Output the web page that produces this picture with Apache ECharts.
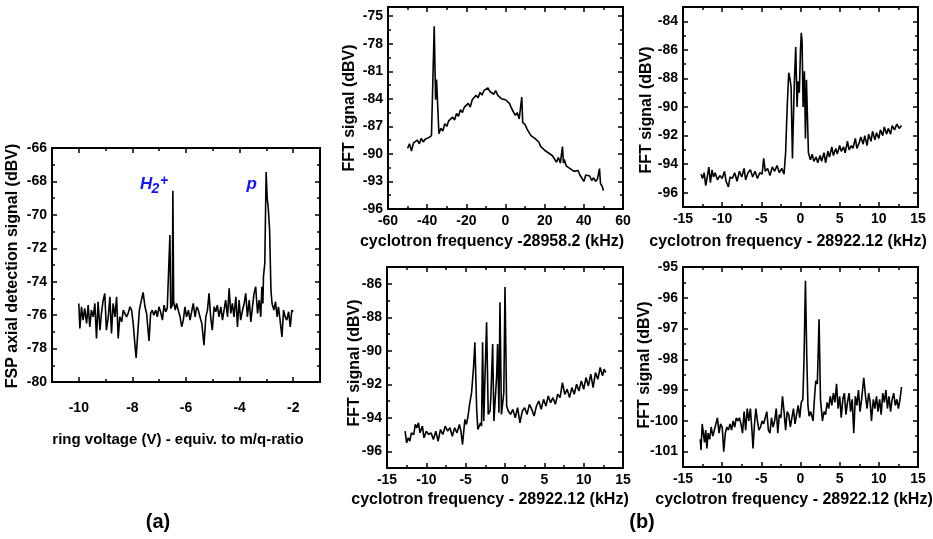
<!DOCTYPE html>
<html><head><meta charset="utf-8">
<script src="https://cdn.jsdelivr.net/npm/echarts@6.0.0/dist/echarts.min.js"></script>
<style>html,body{margin:0;padding:0;background:#fff}#c{width:933px;height:539px}</style>
</head><body><div id="c"></div><script>
// ---------- DATA ----------
// (a) FSP axial detection signal vs ring voltage
const fspSignal = [
[-10.00,-75.3],[-9.96,-76.8],[-9.90,-75.5],[-9.84,-76.3],[-9.78,-75.6],[-9.71,-76.5],[-9.65,-75.4],[-9.59,-76.7],[-9.53,-75.7],[-9.46,-76.1],
[-9.40,-75.3],[-9.34,-77.4],[-9.28,-75.2],[-9.21,-76.9],[-9.15,-75.8],[-9.09,-75.1],[-9.03,-74.7],[-8.97,-76.9],[-8.90,-76.1],[-8.84,-74.9],
[-8.78,-77.1],[-8.72,-75.3],[-8.65,-76.1],[-8.59,-74.9],[-8.53,-77.4],[-8.47,-76.1],[-8.40,-76.4],[-8.34,-75.7],[-8.28,-75.6],[-8.22,-76.1],
[-8.16,-75.9],[-8.09,-75.5],[-8.03,-75.7],[-7.97,-76.5],[-7.91,-77.7],[-7.86,-78.56],[-7.81,-77.3],[-7.74,-75.7],[-7.69,-75.3],[-7.63,-75.3],
[-7.60,-74.64],[-7.53,-75.5],[-7.47,-75.9],[-7.38,-77.54],[-7.32,-75.9],[-7.26,-75.7],[-7.20,-76.0],[-7.13,-75.7],[-7.07,-76.1],[-7.01,-75.5],
[-6.95,-75.8],[-6.88,-76.3],[-6.82,-75.4],[-6.76,-75.8],[-6.70,-75.6],[-6.65,-75.7],[-6.63,-75.5],[-6.60,-71.2],[-6.57,-75.6],[-6.51,-75.4],
[-6.49,-68.56],[-6.46,-75.2],[-6.40,-75.7],[-6.35,-75.3],[-6.29,-75.7],[-6.22,-76.1],[-6.16,-76.7],[-6.10,-76.3],[-6.04,-75.5],[-5.98,-76.1],
[-5.91,-75.7],[-5.85,-76.3],[-5.79,-75.8],[-5.73,-75.3],[-5.66,-76.1],[-5.60,-75.5],[-5.54,-75.7],[-5.48,-76.1],[-5.41,-76.5],[-5.33,-77.8],
[-5.26,-76.1],[-5.20,-75.7],[-5.14,-74.7],[-5.08,-76.1],[-5.02,-76.9],[-4.95,-75.5],[-4.89,-75.8],[-4.83,-75.4],[-4.77,-76.1],[-4.70,-75.5],
[-4.64,-76.3],[-4.58,-75.7],[-4.52,-75.1],[-4.45,-76.1],[-4.39,-74.4],[-4.33,-75.9],[-4.27,-75.3],[-4.21,-76.1],[-4.14,-74.9],[-4.08,-76.7],
[-4.02,-75.1],[-3.96,-76.3],[-3.89,-75.7],[-3.83,-75.3],[-3.77,-74.7],[-3.71,-76.1],[-3.64,-75.1],[-3.58,-76.4],[-3.52,-75.5],[-3.46,-74.7],
[-3.40,-74.3],[-3.33,-75.9],[-3.27,-75.1],[-3.21,-76.1],[-3.17,-74.3],[-3.13,-75.3],[-3.11,-73.7],[-3.06,-72.9],[-3.01,-67.44],[-2.97,-69.0],
[-2.93,-69.6],[-2.88,-70.9],[-2.83,-74.5],[-2.79,-75.3],[-2.72,-75.7],[-2.66,-75.2],[-2.60,-76.1],[-2.55,-75.5],[-2.49,-76.3],[-2.42,-77.3],
[-2.36,-75.7],[-2.30,-76.1],[-2.24,-76.3],[-2.17,-75.8],[-2.11,-76.7],[-2.05,-75.7],[-2.00,-75.8]
];
// (b) top-left: offset -28958.2 kHz
const fftWide = [
[-50,-89.4],[-49,-88.9],[-48,-89.7],[-47,-88.8],[-46,-89.0],[-45,-88.5],[-44,-88.9],[-43,-88.3],[-42,-88.7],[-41,-88.4],
[-40,-88.6],[-39,-88.2],[-38.4,-88.4],[-37.8,-88.0],[-36.4,-76.1],[-35.7,-84.1],[-35.2,-81.9],[-34.5,-82.0],[-34.0,-87.8],[-33,-87.2],
[-32,-87.5],[-31,-86.7],[-30,-87.0],[-29,-86.4],[-28,-86.6],[-27,-86.0],[-26,-86.3],[-25,-85.6],[-24,-85.9],[-23,-85.2],
[-22,-85.5],[-21,-84.9],[-20,-85.1],[-19,-84.5],[-18,-84.9],[-17,-84.1],[-16,-84.3],[-15,-83.6],[-14,-83.9],[-13,-83.3],
[-12,-83.6],[-11,-83.1],[-10,-83.3],[-9,-82.8],[-8,-83.2],[-7,-83.0],[-6,-83.5],[-5,-83.1],[-4,-83.6],[-3,-83.4],
[-2,-84.0],[-1,-83.8],[0,-84.1],[1,-84.3],[2,-84.5],[3,-85.0],[4,-85.2],[5,-85.8],[6,-85.5],[7,-86.2],
[7.8,-86.4],[8.3,-83.8],[8.8,-86.6],[10,-86.8],[11,-87.3],[12,-87.4],[13,-88.0],[14,-87.8],[15,-88.3],[16,-88.5],
[17,-88.7],[18,-89.2],[19,-89.0],[20,-89.6],[21,-89.5],[22,-89.9],[23,-89.7],[24,-90.2],[25,-90.3],[26,-90.9],
[27,-90.4],[28,-91.0],[28.6,-90.8],[29.1,-89.2],[29.6,-91.0],[30,-90.6],[31,-91.3],[32,-91.5],[33,-91.6],[34,-91.4],
[35,-91.9],[36,-92.0],[37,-91.8],[38,-92.3],[39,-92.1],[40,-93.0],[41,-92.3],[42,-92.5],[43,-92.4],[44,-92.9],
[45,-92.6],[46,-93.0],[47,-92.7],[47.6,-92.9],[48,-91.6],[48.5,-93.2],[49,-93.1],[49.5,-93.6],[50,-94.0]
];
// (b) top-right: offset -28922.12 kHz
const fftNarrow1 = [
[-12.7,-94.7],[-12.5,-95.0],[-12.3,-94.6],[-12.1,-95.5],[-11.9,-94.9],[-11.7,-94.2],[-11.5,-95.3],[-11.3,-94.4],[-11.1,-94.9],[-10.9,-94.6],
[-10.6,-95.1],[-10.3,-94.8],[-10.0,-95.0],[-9.7,-94.5],[-9.5,-95.2],[-9.2,-95.6],[-9.0,-94.9],[-8.7,-95.0],[-8.4,-94.6],[-8.1,-95.2],
[-7.8,-94.5],[-7.5,-94.9],[-7.2,-94.3],[-7.0,-95.1],[-6.7,-94.6],[-6.4,-94.4],[-6.1,-94.9],[-5.8,-94.5],[-5.5,-95.0],[-5.2,-94.6],
[-4.9,-94.7],[-4.7,-93.6],[-4.5,-94.5],[-4.2,-94.3],[-3.9,-94.8],[-3.6,-94.2],[-3.3,-94.5],[-3.0,-94.1],[-2.7,-94.6],[-2.4,-94.3],
[-2.1,-94.7],[-1.9,-93.2],[-1.7,-90.0],[-1.5,-87.6],[-1.35,-88.0],[-1.2,-88.6],[-1.03,-93.6],[-0.8,-88.5],[-0.61,-85.8],[-0.44,-90.0],
[-0.3,-88.2],[-0.15,-89.0],[0.0,-86.0],[0.1,-84.8],[0.2,-85.4],[0.33,-90.0],[0.5,-87.5],[0.63,-92.2],[0.76,-88.1],[1.01,-93.2],
[1.27,-93.7],[1.5,-93.3],[1.7,-93.8],[2.0,-93.5],[2.2,-93.9],[2.5,-93.4],[2.7,-93.8],[3.0,-93.2],[3.2,-93.9],[3.5,-93.1],
[3.7,-93.5],[4.0,-92.8],[4.2,-93.4],[4.5,-92.9],[4.7,-93.3],[5.0,-92.7],[5.2,-93.1],[5.5,-92.8],[5.7,-93.2],[6.0,-92.4],
[6.2,-93.0],[6.5,-92.7],[6.7,-92.9],[7.0,-92.2],[7.2,-92.9],[7.5,-92.5],[7.7,-92.1],[8.0,-92.6],[8.2,-92.0],[8.5,-92.7],
[8.7,-91.9],[9.0,-92.4],[9.2,-91.7],[9.5,-92.3],[9.7,-91.8],[10.0,-92.2],[10.2,-91.6],[10.5,-92.0],[10.7,-91.4],[11.0,-91.9],
[11.2,-91.5],[11.5,-91.9],[11.7,-91.3],[12.0,-91.6],[12.3,-91.2],[12.6,-91.5],[12.9,-91.3]
];
// (b) bottom-left
const fftNarrow2 = [
[-12.7,-94.8],[-12.5,-95.5],[-12.3,-95.2],[-12.1,-95.4],[-11.9,-94.9],[-11.6,-95.0],[-11.4,-94.4],[-11.2,-94.6],[-11.0,-94.3],[-10.8,-94.9],
[-10.5,-94.5],[-10.3,-95.2],[-10.0,-94.8],[-9.7,-95.0],[-9.4,-94.9],[-9.1,-95.3],[-8.8,-94.8],[-8.5,-95.4],[-8.2,-94.7],[-7.9,-95.0],
[-7.6,-94.5],[-7.3,-94.8],[-7.0,-94.6],[-6.7,-95.1],[-6.4,-94.6],[-6.1,-94.9],[-5.8,-94.4],[-5.6,-94.8],[-5.4,-95.6],[-5.1,-94.1],
[-4.9,-94.4],[-4.7,-93.9],[-4.5,-93.2],[-4.25,-92.5],[-4.0,-91.0],[-3.83,-89.5],[-3.6,-93.5],[-3.45,-94.7],[-3.28,-94.8],[-3.1,-94.3],
[-2.98,-94.5],[-2.85,-89.5],[-2.7,-94.2],[-2.55,-91.7],[-2.34,-88.3],[-2.13,-93.8],[-1.9,-93.6],[-1.79,-92.7],[-1.57,-89.6],[-1.41,-94.2],
[-1.2,-94.2],[-1.06,-91.5],[-0.94,-89.6],[-0.77,-93.7],[-0.64,-87.1],[-0.45,-93.8],[-0.3,-93.9],[-0.15,-92.5],[0.0,-86.2],[0.21,-93.3],
[0.42,-93.6],[0.7,-93.8],[1.0,-93.5],[1.3,-94.0],[1.6,-93.4],[1.9,-94.3],[2.2,-93.6],[2.5,-93.4],[2.8,-93.8],[3.1,-93.2],
[3.4,-93.5],[3.7,-93.9],[4.0,-93.3],[4.3,-93.0],[4.6,-93.5],[4.9,-92.9],[5.2,-93.3],[5.5,-92.7],[5.8,-93.1],[6.1,-92.8],
[6.4,-93.2],[6.7,-92.6],[7.0,-92.8],[7.3,-91.9],[7.6,-92.6],[7.9,-92.3],[8.2,-92.8],[8.5,-92.2],[8.8,-92.6],[9.1,-92.0],
[9.4,-92.4],[9.7,-91.8],[10.0,-92.3],[10.3,-91.6],[10.6,-92.1],[10.9,-91.4],[11.2,-92.2],[11.5,-91.3],[11.8,-91.7],[12.1,-91.0],
[12.4,-91.5],[12.6,-91.1],[12.8,-91.3]
];
// (b) bottom-right
const fftNarrow3 = [
[-12.8,-100.6],[-12.7,-100.95],[-12.55,-100.1],[-12.4,-100.1],[-12.25,-100.7],[-12.1,-100.3],[-11.95,-100.9],[-11.8,-100.4],[-11.6,-100.6],[-11.4,-100.2],
[-11.2,-100.5],[-11.0,-100.3],[-10.8,-100.1],[-10.6,-99.9],[-10.4,-100.4],[-10.2,-100.1],[-10.0,-100.2],[-9.8,-101.0],[-9.6,-100.4],[-9.4,-100.2],
[-9.2,-100.3],[-9.0,-100.1],[-8.8,-100.3],[-8.6,-100.0],[-8.4,-100.2],[-8.2,-99.9],[-8.0,-100.0],[-7.8,-99.9],[-7.6,-100.1],[-7.4,-100.4],
[-7.2,-99.7],[-7.0,-100.3],[-6.8,-99.6],[-6.6,-100.0],[-6.4,-99.6],[-6.2,-100.3],[-6.06,-100.9],[-5.9,-100.2],[-5.7,-99.6],[-5.5,-100.0],
[-5.3,-100.3],[-5.1,-100.2],[-4.9,-100.0],[-4.7,-100.1],[-4.5,-99.9],[-4.3,-99.7],[-4.1,-100.3],[-3.9,-100.4],[-3.7,-99.9],[-3.5,-100.2],
[-3.3,-100.0],[-3.1,-99.6],[-2.9,-100.4],[-2.7,-99.8],[-2.5,-99.9],[-2.3,-99.2],[-2.1,-99.7],[-1.9,-100.3],[-1.7,-99.7],[-1.5,-99.8],
[-1.3,-100.2],[-1.1,-99.9],[-0.9,-99.6],[-0.7,-100.1],[-0.5,-99.8],[-0.3,-99.5],[-0.1,-99.9],[0.1,-99.4],[0.3,-99.3],[0.45,-98.0],
[0.63,-95.45],[0.8,-97.9],[0.95,-99.5],[1.1,-99.85],[1.3,-99.7],[1.6,-100.0],[1.8,-99.2],[1.95,-98.7],[2.15,-98.8],[2.37,-96.7],
[2.55,-99.3],[2.8,-100.0],[3.0,-99.7],[3.2,-99.8],[3.4,-99.4],[3.6,-99.6],[3.8,-99.2],[4.0,-99.5],[4.2,-99.1],[4.4,-99.4],
[4.6,-98.8],[4.8,-99.6],[5.0,-99.2],[5.2,-99.9],[5.4,-99.3],[5.6,-99.1],[5.8,-99.8],[6.0,-99.4],[6.2,-99.1],[6.4,-99.7],
[6.6,-99.3],[6.8,-100.4],[7.0,-99.2],[7.2,-99.5],[7.4,-99.0],[7.6,-99.7],[7.8,-99.3],[8.08,-98.6],[8.3,-99.2],[8.5,-99.6],
[8.7,-99.1],[8.9,-99.4],[9.06,-100.0],[9.3,-99.3],[9.5,-99.6],[9.7,-99.2],[9.9,-99.7],[10.1,-99.3],[10.3,-99.8],[10.5,-99.1],
[10.7,-99.4],[10.9,-99.0],[11.1,-99.6],[11.3,-99.2],[11.5,-99.7],[11.7,-99.3],[11.9,-99.1],[12.1,-99.5],[12.3,-99.3],[12.5,-99.6],
[12.7,-99.3],[12.9,-98.9]
];

// tick labels / tick positions
const aXTicks = [-10,-8,-6,-4,-2];
const aXMinor = [-11,-9,-7,-5,-3,-1];
const aYTicks = [-80,-78,-76,-74,-72,-70,-68,-66];
const aYMinor = [-79,-77,-75,-73,-71,-69,-67];
const wideXTicks = [-60,-40,-20,0,20,40,60];
const wideXMinor = [-50,-30,-10,10,30,50];
const wideYTicks = [-96,-93,-90,-87,-84,-81,-78,-75];
const wideYMinor = [-94.5,-91.5,-88.5,-85.5,-82.5,-79.5,-76.5];
const narrowXTicks = [-15,-10,-5,0,5,10,15];
const narrowXMinor = [-12.5,-7.5,-2.5,2.5,7.5,12.5];
const n1YTicks = [-96,-94,-92,-90,-88,-86,-84];
const n1YMinor = [-97,-95,-93,-91,-89,-87,-85,-83];
const n2YTicks = [-96,-94,-92,-90,-88,-86];
const n2YMinor = [-97,-95,-93,-91,-89,-87,-85];
const n3YTicks = [-101,-100,-99,-98,-97,-96,-95];
const n3YMinor = [-101.5,-100.5,-99.5,-98.5,-97.5,-96.5,-95.5];

// titles
const titleA_Y = 'FSP axial detection signal (dBV)';
const titleA_X = 'ring voltage (V) - equiv. to m/q-ratio';
const titleB_Y = 'FFT signal (dBV)';
const titleWideX = 'cyclotron frequency -28958.2 (kHz)';
const titleNarrowX = 'cyclotron frequency - 28922.12 (kHz)';

// ---------- CHART ----------
const FONT = '"Liberation Sans", Arial, Helvetica, sans-serif';
const chart = echarts.init(document.getElementById('c'), null, {renderer:'canvas'});

const grids = [
  {left:52, top:148, width:268, height:234},
  {left:388, top:7, width:235, height:202},
  {left:683, top:7, width:235, height:200},
  {left:387, top:267, width:236, height:201},
  {left:683, top:267, width:235, height:200}
];
const specs = [
  {x:[-11,-1,aXTicks,aXMinor], y:[-80,-66,aYTicks,aYMinor], xm:19, data:fspSignal},
  {x:[-60,60,wideXTicks,wideXMinor], y:[-96,-74,wideYTicks,wideYMinor], xm:5, data:fftWide},
  {x:[-15,15,narrowXTicks,narrowXMinor], y:[-97,-83,n1YTicks,n1YMinor], xm:5, data:fftNarrow1},
  {x:[-15,15,narrowXTicks,narrowXMinor], y:[-97,-85,n2YTicks,n2YMinor], xm:5, data:fftNarrow2},
  {x:[-15,15,narrowXTicks,narrowXMinor], y:[-101.5,-95,n3YTicks,n3YMinor], xm:5, data:fftNarrow3}
];

function makeAxes(kind, g, spec, margin) {
  const [min,max,majors,minors] = spec;
  const positions = kind==='x' ? ['bottom','top'] : ['left','right'];
  const out = [];
  positions.forEach((p,i)=>{
    [[majors,5,i===0],[minors,3,false]].forEach(([vals,len,lab])=>{
      out.push({
        type:'value', gridIndex:g, position:p, min, max, offset:0,
        splitLine:{show:false},
        axisLine:{show:true, onZero:false, lineStyle:{color:'#000', width:2}},
        axisTick:{show:true, inside:true, length:len, customValues:vals, lineStyle:{color:'#000', width:1.5}},
        axisLabel:lab ? {show:true, customValues:vals, inside:false, margin:margin, color:'#000',
          fontFamily:FONT, fontWeight:'bold', fontSize:14, hideOverlap:false} : {show:false}
      });
    });
  });
  return out;
}

const xAxis = [], yAxis = [], series = [];
specs.forEach((s,g)=>{
  xAxis.push(...makeAxes('x', g, s.x, s.xm));
  yAxis.push(...makeAxes('y', g, s.y, 5));
  series.push({
    type:'line', xAxisIndex:g*4, yAxisIndex:g*4, data:s.data,
    showSymbol:false, symbol:'none', smooth:false,
    lineStyle:{color:'#000', width:1.6}, silent:true
  });
});

function txt(x,y,text,size,opts){
  opts = opts||{};
  return {type:'text', x, y, rotation:opts.rot||0, silent:true,
    style:{text, fill:opts.color||'#000', font:(opts.style||'')+' bold '+size+'px '+FONT,
      textAlign:opts.align||'center', textVerticalAlign:'middle', align:opts.align||'center', verticalAlign:'middle'}};
}

const graphics = [
  txt(13,266,titleA_Y,16,{rot:Math.PI/2}),
  txt(178,440,titleA_X,15),
  txt(350,108,titleB_Y,16,{rot:Math.PI/2}),
  txt(492,242,titleWideX,16),
  txt(647,110,titleB_Y,16,{rot:Math.PI/2}),
  txt(788,242,titleNarrowX,16),
  txt(355,363,titleB_Y,16,{rot:Math.PI/2}),
  txt(490,500,titleNarrowX,16),
  txt(645,365,titleB_Y,16,{rot:Math.PI/2}),
  txt(794,500,titleNarrowX,16),
  txt(158,522,'(a)',20),
  txt(642,522,'(b)',20),
  txt(140,184,'H',17,{align:'left',style:'italic',color:'#1414ff'}),
  txt(151.5,189,'2',14,{align:'left',style:'italic',color:'#1414ff'}),
  txt(160,181,'+',14,{align:'left',style:'italic',color:'#1414ff'}),
  txt(246.5,184.5,'p',17,{align:'left',style:'italic',color:'#1414ff'})
];

chart.setOption({
  animation:false,
  backgroundColor:'#fff',
  grid:grids,
  xAxis, yAxis, series,
  graphic:graphics
});
</script></body></html>
